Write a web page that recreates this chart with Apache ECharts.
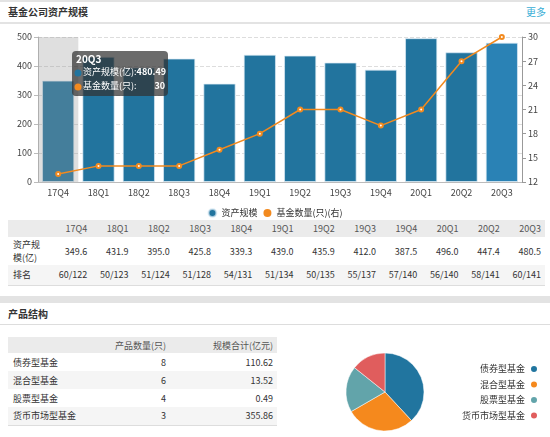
<!DOCTYPE html>
<html><head><meta charset="utf-8">
<script src="https://cdn.jsdelivr.net/npm/echarts@6/dist/echarts.min.js"></script>
<style>
body{margin:0;width:550px;height:437px;overflow:hidden;font-family:"Noto Sans CJK SC","Noto Sans",sans-serif;color:#333;background:#fff;position:relative}
.bar{position:absolute;left:0;width:550px;background:#e3e3e3}
.h{position:absolute;left:8px;font-size:10px;font-weight:bold;color:#333;line-height:14px}
.more{position:absolute;right:4px;top:5px;font-size:10px;color:#3aaed6;line-height:14px}
table{position:absolute;border-collapse:collapse;table-layout:fixed;font-size:9px;color:#333}
td{padding:0 4px 0 5px;white-space:nowrap;overflow:hidden}
#t1 td{text-align:right}
#t1 td.f{text-align:left;white-space:normal;line-height:13px}
#t2 td{text-align:right}
#t2 td.f{text-align:left}
.hd td{background:#ebebeb;color:#555}
.alt td{background:#f5f5f5}
#c1{position:absolute;left:0;top:24px;width:550px;height:194px}
#c2{position:absolute;left:290px;top:330px;width:260px;height:107px}
</style></head>
<body>
<div class="bar" style="top:0;height:2px"></div>
<div class="h" style="top:5px">基金公司资产规模</div>
<div class="more">更多</div>
<div class="bar" style="top:22px;height:2px"></div>
<div id="c1"></div>
<table id="t1" style="left:8px;top:220px;width:537px"></table>
<div class="bar" style="top:296px;height:7px"></div>
<div class="h" style="top:307px">产品结构</div>
<div class="bar" style="top:324px;height:1px;background:#ddd"></div>
<table id="t2" style="left:8px;top:337px;width:269px"></table>
<div id="c2"></div>
<script>
// ---- data ----
const quarters = ['17Q4','18Q1','18Q2','18Q3','18Q4','19Q1','19Q2','19Q3','19Q4','20Q1','20Q2','20Q3'];
const assetScale = [349.6, 431.9, 395.0, 425.8, 339.3, 439.0, 435.9, 412.0, 387.5, 496.0, 447.4, 480.49];
const fundCount = [13, 14, 14, 14, 16, 18, 21, 21, 19, 21, 27, 30];
const ranks = ['60/122','50/123','51/124','51/128','54/131','51/134','50/135','55/137','57/140','56/140','58/141','60/141'];
const leftTicks = [0, 100, 200, 300, 400, 500];
const rightTicks = [12, 15, 18, 21, 24, 27, 30];
const productTypes = ['债券型基金','混合型基金','股票型基金','货币市场型基金'];
const productCounts = [8, 6, 4, 3];
const productScale = ['110.62','13.52','0.49','355.86'];

const FONT = '"Noto Sans CJK SC","Noto Sans",sans-serif';
const tipIdx = quarters.length - 1;   // tooltip shows 20Q3
const shadowIdx = 0;                  // axis shadow on 17Q4

// ---- table 1 ----
const t1 = document.getElementById('t1');
let html = '<colgroup><col style="width:42px">' + quarters.map(()=>'<col>').join('') + '</colgroup>';
html += '<tr class="hd" style="height:17px"><td class="f"></td>' + quarters.map(q=>'<td>'+q+'</td>').join('') + '</tr>';
html += '<tr style="height:28px"><td class="f">资产规模(亿)</td>' + assetScale.map(v=>'<td>'+v.toFixed(1)+'</td>').join('') + '</tr>';
html += '<tr class="alt" style="height:20px;border-bottom:1px solid #ddd"><td class="f">排名</td>' + ranks.map(r=>'<td>'+r+'</td>').join('') + '</tr>';
t1.innerHTML = html;

// ---- table 2 ----
const t2 = document.getElementById('t2');
let h2 = '<colgroup><col style="width:92px"><col style="width:70px"><col></colgroup>';
h2 += '<tr class="hd" style="height:16px"><td class="f"></td><td>产品数量(只)</td><td>规模合计(亿元)</td></tr>';
productTypes.forEach((n,i)=>{
  h2 += '<tr class="'+(i%2===1?'alt':'')+'" style="height:18px'+(i===productTypes.length-1?';border-bottom:1px solid #ddd':'')+'"><td class="f">'+n+'</td><td>'+productCounts[i]+'</td><td>'+productScale[i]+'</td></tr>';
});
t2.innerHTML = h2;

// ---- main chart ----
const blue = '#22749e', orange = '#f28a1f';
const c1 = echarts.init(document.getElementById('c1'));
const axisLbl = {fontSize:9, color:'#444', fontFamily:FONT, margin:6};
c1.setOption({
  animation:false,
  textStyle:{fontFamily:FONT},
  grid:{left:38, right:28, top:13, bottom:36},
  legend:{data:['资产规模','基金数量(只)(右)'], left:'center', top:179, icon:'circle', itemWidth:8, itemHeight:8, itemGap:6,
    textStyle:{fontSize:9, color:'#333', fontFamily:FONT}},
  xAxis:[
    {type:'category', data:quarters, axisLine:{lineStyle:{color:'#bbb'}}, axisTick:{show:false}, axisLabel:axisLbl},
    {type:'category', data:quarters, show:false}
  ],
  yAxis:[
    {type:'value', min:leftTicks[0], max:leftTicks[leftTicks.length-1], interval:leftTicks[1]-leftTicks[0],
     axisLine:{show:true, lineStyle:{color:'#bbb'}}, axisTick:{show:true, length:4, lineStyle:{color:'#bbb'}},
     axisLabel:axisLbl, splitLine:{lineStyle:{type:'dashed', color:'#ddd'}}},
    {type:'value', min:rightTicks[0], max:rightTicks[rightTicks.length-1], interval:rightTicks[1]-rightTicks[0], position:'right',
     axisLine:{show:true, lineStyle:{color:'#999'}}, axisTick:{show:true, length:4, lineStyle:{color:'#999'}},
     axisLabel:axisLbl, splitLine:{show:false}}
  ],
  series:[
    {name:'资产规模', type:'bar', barCategoryGap:'20%',
     data:assetScale.map((v,i)=> i===tipIdx ? {value:v, itemStyle:{color:'#2a82b5'}} : v),
     itemStyle:{color:blue, borderColor:'rgba(220,235,245,0.7)', borderWidth:1}, z:2},
    {name:'shadow', type:'bar', xAxisIndex:1, yAxisIndex:0, barWidth:'100%', silent:true,
     data:quarters.map((q,i)=> i===shadowIdx ? leftTicks[leftTicks.length-1] : '-'),
     itemStyle:{color:'rgba(150,150,150,0.3)'}, z:3},
    {name:'基金数量(只)(右)', type:'line', yAxisIndex:1, data:fundCount, symbol:'emptyCircle', symbolSize:4,
     lineStyle:{color:orange, width:1.5}, itemStyle:{color:orange, borderWidth:1}, z:5}
  ],
  graphic:[
    {type:'rect', left:72, top:27, shape:{width:96, height:45, r:4}, style:{fill:'rgba(50,50,50,0.72)'}, z:100},
    {type:'text', left:76, top:30, style:{text:quarters[tipIdx], fill:'#fff', font:'bold 10px '+FONT}, z:101},
    {type:'circle', shape:{cx:78, cy:49, r:3.5}, style:{fill:blue}, z:101},
    {type:'text', left:83, top:43, style:{text:'{l|资产规模(亿):}{v|'+assetScale[tipIdx].toFixed(2)+'}', fill:'#fff',
      rich:{l:{fontSize:9, fill:'#fff', fontFamily:FONT}, v:{fontSize:9, fontWeight:'bold', fill:'#fff', fontFamily:FONT}}}, z:101},
    {type:'circle', shape:{cx:78, cy:63, r:3.5}, style:{fill:orange}, z:101},
    {type:'text', left:83, top:57, style:{text:'基金数量(只):', fill:'#fff', font:'9px '+FONT}, z:101},
    {type:'text', right:550-165, top:57, style:{text:String(fundCount[tipIdx]), fill:'#fff', font:'bold 9px '+FONT}, z:101}
  ]
});

// ---- pie ----
const c2 = echarts.init(document.getElementById('c2'));
c2.setOption({
  animation:false,
  color:['#21759f','#f5891d','#62a4aa','#e05d5d'],
  textStyle:{fontFamily:FONT},
  legend:{orient:'vertical', right:6, top:29, align:'right', icon:'circle', itemWidth:8, itemHeight:8, itemGap:5.5,
    data:productTypes, textStyle:{fontSize:9, color:'#333', fontFamily:FONT}},
  series:[{type:'pie', center:[95,62], radius:39, startAngle:90, clockwise:true,
    label:{show:false}, labelLine:{show:false},
    itemStyle:{borderColor:'#fff', borderWidth:0.5},
    data:productTypes.map((n,i)=>({name:n, value:productCounts[i]}))}]
});
</script>
</body></html>
